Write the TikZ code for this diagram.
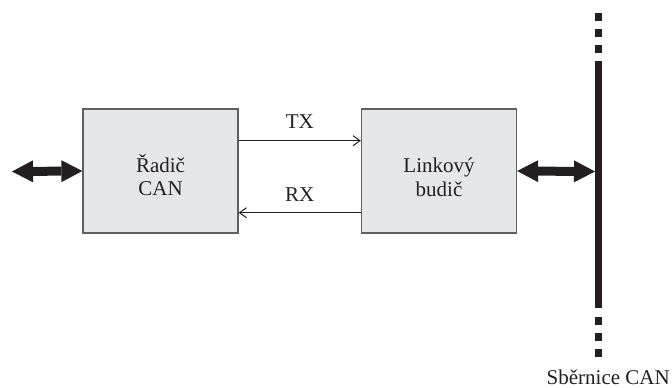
\documentclass[tikz,border=0pt]{standalone}
\usepackage{fontspec}
\setmainfont{Liberation Serif}
\usetikzlibrary{arrows.meta}
\definecolor{boxfill}{RGB}{230,231,232}
\definecolor{boxline}{RGB}{95,95,95}
\definecolor{ink}{RGB}{35,31,32}
\tikzset{
  block/.style={draw=boxline, fill=boxfill, line width=1.3pt,
    minimum width=155pt, minimum height=124pt, inner sep=0pt},
  blocktext/.style={align=center, inner sep=0pt, text=ink,
    font=\fontsize{21}{23.5}\selectfont},
  signal/.style={draw=ink, line width=1pt,
    -{Straight Barb[length=7pt,width=10pt,line width=1pt]}},
  siglabel/.style={inner sep=0pt, text=ink, font=\fontsize{21}{23.5}\selectfont},
  busarrow/.style={draw=ink, line width=9pt,
    {Triangle[length=21pt,width=22pt,line width=0pt]}-{Triangle[length=21pt,width=22pt,line width=0pt]}},
  busline/.style={draw=ink, line width=7pt},
  busdots/.style={draw=ink, line width=7pt, dash pattern=on 8pt off 8pt}
}
\begin{document}
\begin{tikzpicture}[x=1pt,y=-1pt]
  \useasboundingbox (0,0) rectangle (672,388);

  % controller and line driver
  \node[block] (ctrl) at (160.5,171) {};
  \node[block] (drv) at (439,171) {};
  \node[blocktext, yshift=-4.3pt] (ctrltext) at (ctrl.center) {Řadič\\CAN};
  \node[blocktext, yshift=-6.3pt] (drvtext) at (drv.center) {Linkový\\budič};

  % TX / RX signals
  \draw[signal] ([yshift=30.3pt]ctrl.east) -- node[siglabel, above=11.5pt] (tx) {TX} ([yshift=30.3pt]drv.west);
  \draw[signal] ([yshift=-41.7pt]drv.west) -- node[siglabel, above=11pt] (rx) {RX} ([yshift=-41.7pt]ctrl.west -| ctrl.east);

  % CAN bus
  \coordinate (bustop) at (598.5,61);
  \coordinate (busbottom) at (598.5,308);
  \coordinate (dotstop) at (598.5,13);
  \coordinate (dotsbottom) at (598.5,317);
  \draw[busline] (bustop) -- (busbottom);
  \draw[busdots] (dotstop) -- (598.5,54);
  \draw[busdots] (dotsbottom) -- (598.5,357);
  \node[siglabel, anchor=base east] (buslabel) at (670,384.5) {Sběrnice CAN};

  % bidirectional links
  \coordinate (host) at (12,171.5);
  \coordinate (busjoin) at (595,171.5);
  \draw[busarrow] (host) -- (ctrl.west);
  \draw[busarrow] (drv.east) -- (busjoin);
\end{tikzpicture}
\end{document}
